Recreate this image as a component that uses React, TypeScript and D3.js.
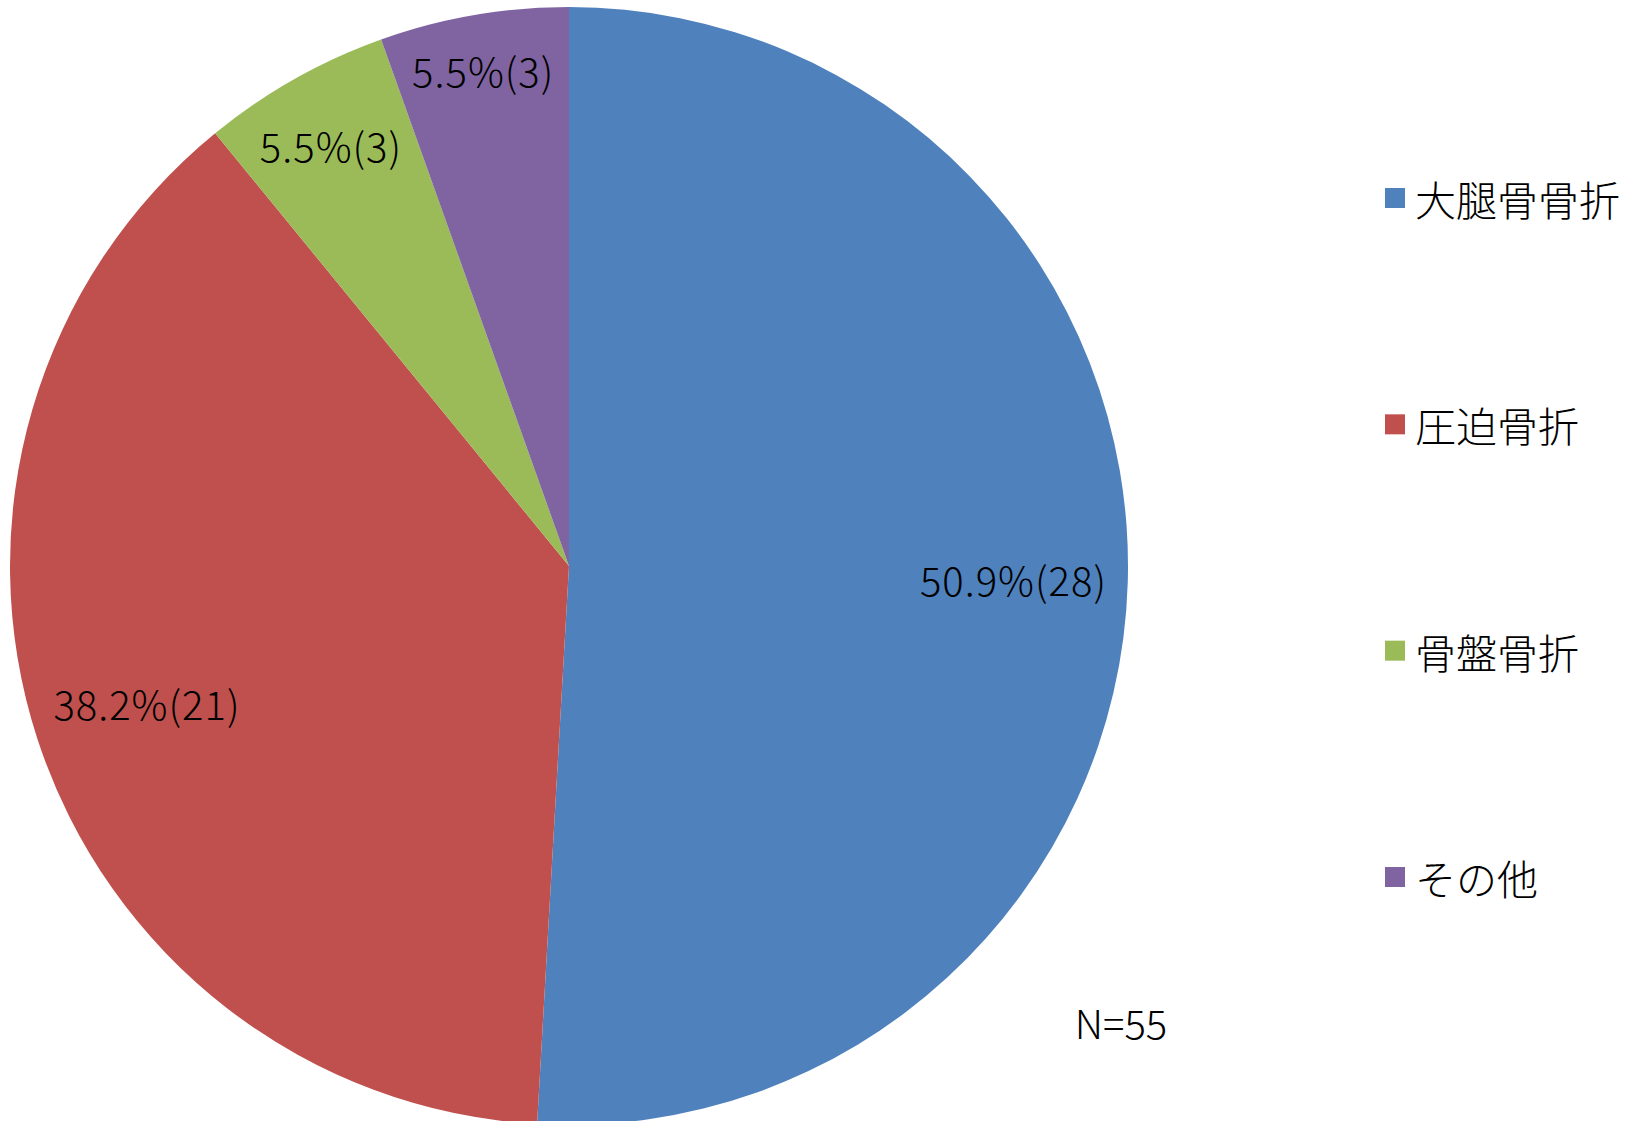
import React, { useEffect, useRef } from "react";
import * as d3 from "d3";

const categories = ["大腿骨骨折", "圧迫骨折", "骨盤骨折", "その他"];
const counts = [28, 21, 3, 3];
const colors = ["#4F81BD", "#C0504D", "#9BBB59", "#8064A2"];
const totalLabel = "N=55";

const W = 1636;
const H = 1121;
const FONT = "'Noto Sans CJK JP', 'Noto Sans', sans-serif";

export default function App() {
  const ref = useRef<SVGSVGElement>(null);

  useEffect(() => {
    const svg = d3.select(ref.current);
    svg.selectAll("*").remove();

    const cx = 569, cy = 566, R = 559;
    const total = d3.sum(counts);

    const pie = d3.pie<number>().sort(null).value(d => d);
    const arcs = pie(counts);
    const arc = d3.arc<d3.PieArcDatum<number>>().innerRadius(0).outerRadius(R);

    const g = svg.append("g").attr("transform", "translate(" + cx + "," + cy + ")");

    g.selectAll("path")
      .data(arcs)
      .enter()
      .append("path")
      .attr("d", arc)
      .attr("fill", (d, i) => colors[i]);

    // data labels, "inside end" like excel
    const pad = 20;
    const fs = 40;
    arcs.forEach((a, i) => {
      const pct = (counts[i] / total * 100).toFixed(1);
      const t = g.append("text")
        .attr("font-family", FONT)
        .attr("font-weight", 300)
        .attr("font-size", fs)
        .attr("letter-spacing", 1)
        .attr("fill", "#000")
        .attr("text-anchor", "middle")
        .attr("dominant-baseline", "central")
        .text(pct + "%(" + counts[i] + ")");
      const bw = (t.node() as SVGTextElement).getBBox().width;
      const bh = fs;
      const mid = (a.startAngle + a.endAngle) / 2;
      const s = Math.abs(Math.sin(mid)), c = Math.abs(Math.cos(mid));
      let lo = 0, hi = R;
      for (let k = 0; k < 40; k++) {
        const r = (lo + hi) / 2;
        const d = Math.hypot(r * s + bw / 2, r * c + bh / 2);
        if (d <= R - pad) lo = r; else hi = r;
      }
      t.attr("x", lo * Math.sin(mid)).attr("y", -lo * Math.cos(mid));
    });

    // legend
    const ly = d3.scalePoint<string>().domain(categories).range([198, 877]);
    const leg = svg.append("g");
    categories.forEach((name, i) => {
      const y = ly(name) as number;
      leg.append("rect")
        .attr("x", 1385).attr("y", y - 10)
        .attr("width", 20).attr("height", 20)
        .attr("fill", colors[i]);
      leg.append("text")
        .attr("x", 1415).attr("y", y)
        .attr("dominant-baseline", "central")
        .attr("font-family", FONT)
        .attr("font-weight", 300)
        .attr("font-size", 41)
        .attr("fill", "#000")
        .text(name);
    });

    svg.append("text")
      .attr("x", 1121).attr("y", 1022)
      .attr("text-anchor", "middle")
      .attr("dominant-baseline", "central")
      .attr("font-family", FONT)
      .attr("font-weight", 300)
      .attr("font-size", 40)
      .attr("fill", "#000")
      .text(totalLabel);
  }, []);

  return (
    <svg
      ref={ref}
      width={W}
      height={H}
      style={{ position: "absolute", left: 0, top: 0, background: "#fff" }}
    />
  );
}
